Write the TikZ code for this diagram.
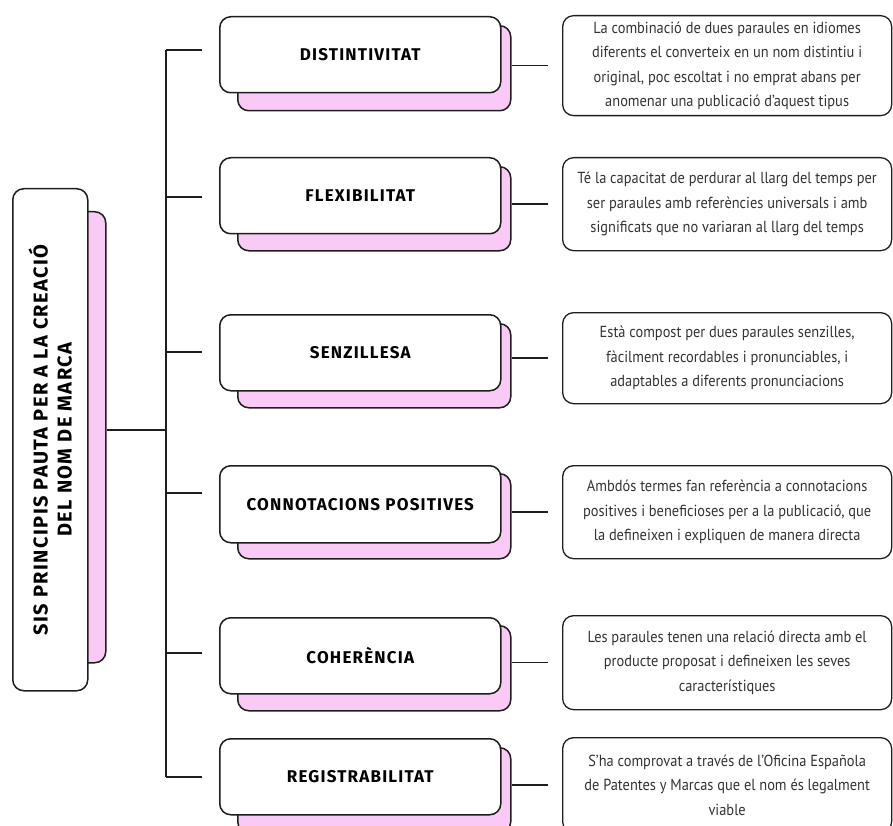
\documentclass[tikz,border=0pt]{standalone}
\usepackage{fontspec}
\setmainfont{PT Sans}
\newfontfamily\notefont[FakeStretch=0.9]{PT Sans}
\newfontfamily\headfont[LetterSpace=7]{Fira Sans}
\usetikzlibrary{positioning,calc}

\definecolor{ink}{HTML}{1E1E1E}
\definecolor{shadowpink}{HTML}{F9CAF5}
\definecolor{notetext}{HTML}{333333}

\begin{document}
\begin{tikzpicture}[
  x=1pt,y=-1pt,
  headbox/.style={rectangle,draw=ink,line width=1.5pt,rounded corners=11pt,fill=white,anchor=north west,inner sep=0pt,minimum width=281pt,minimum height=76pt,font=\headfont\bfseries\fontsize{17}{20}\selectfont},
  shadowbox/.style={rectangle,draw=ink,line width=1.5pt,rounded corners=11pt,fill=shadowpink,anchor=north west,inner sep=0pt,minimum width=273pt,minimum height=85pt},
  notebox/.style={rectangle,draw=ink,line width=1.3pt,rounded corners=11pt,fill=white,anchor=north west,inner sep=0pt,minimum width=329pt,align=center,text=notetext,font=\notefont\fontsize{16}{24.5}\selectfont},
  branch/.style={draw=ink,line width=1.4pt},
]
\useasboundingbox (0,0) rectangle (893,826);
\clip (0,0) rectangle (893,826);

% === TITLE (left, rotated) ===
\node[shadowbox,minimum width=75pt,minimum height=451pt] (titlesh) at (30,211) {};
\node[headbox,minimum width=75pt,minimum height=502pt] (title) at (12,188) {};
\node[rotate=90,align=center,font=\headfont\bfseries\fontsize{20}{24}\selectfont] (titletext) at (title.center) {SIS PRINCIPIS PAUTA PER A LA CREACIÓ\\DEL NOM DE MARCA};

% trunk coordinates
\coordinate (t0) at (166,430);
\coordinate (t1) at (166,50);
\coordinate (t2) at (166,197);
\coordinate (t3) at (166,352);
\coordinate (t4) at (166,493);
\coordinate (t5) at (166,653);
\coordinate (t6) at (166,777);

% === DISTINTIVITAT ===
\node[shadowbox] (distsh) at (237,25) {};
\node[headbox] (dist) at (219,16) {DISTINTIVITAT};
\node[notebox,minimum height=100pt] (distnote) at (562,15) {La combinació de dues paraules en idiomes\\diferents el converteix en un nom distintiu i\\original, poc escoltat i no emprat abans per\\anomenar una publicació d’aquest tipus};

% === FLEXIBILITAT ===
\node[shadowbox,minimum height=84pt] (flexsh) at (237,166) {};
\node[headbox] (flex) at (219,157) {FLEXIBILITAT};
\node[notebox,minimum height=93pt] (flexnote) at (562,157) {Té la capacitat de perdurar al llarg del temps per\\ser paraules amb referències universals i amb\\significats que no variaran al llarg del temps};

% === SENZILLESA ===
\node[shadowbox,minimum height=84pt] (senzsh) at (237,323) {};
\node[headbox] (senz) at (219,314) {SENZILLESA};
\node[notebox,minimum height=91pt] (senznote) at (562,312) {Està compost per dues paraules senzilles,\\fàcilment recordables i pronunciables, i\\adaptables a diferents pronunciacions};

% === CONNOTACIONS POSITIVES ===
\node[shadowbox] (connsh) at (237,473) {};
\node[headbox,minimum height=77pt] (conn) at (219,465) {CONNOTACIONS POSITIVES};
\node[notebox,minimum height=93pt] (connnote) at (562,465) {Ambdós termes fan referència a connotacions\\positives i beneficioses per a la publicació, que\\la defineixen i expliquen de manera directa};

% === COHERÈNCIA ===
\node[shadowbox] (cohsh) at (237,625) {};
\node[headbox] (coh) at (219,617) {COHERÈNCIA};
\node[notebox,minimum height=94pt] (cohnote) at (562,615) {Les paraules tenen una relació directa amb el\\producte proposat i defineixen les seves\\característiques};

% === REGISTRABILITAT ===
\node[shadowbox] (regsh) at (237,747) {};
\node[headbox] (reg) at (219,738) {REGISTRABILITAT};
\node[notebox,minimum height=95pt] (regnote) at (562,737) {S’ha comprovat a través de l’Oficina Española\\de Patentes y Marcas que el nom és legalment\\viable};

% Trunk and branches
\draw[branch] (titlesh.east |- t0) -- (t0);
\draw[branch] (t1) -- (t6);
\draw[branch,shorten >=17pt] (t1) -- (t1 -| dist.west);
\draw[branch,shorten >=17pt] (t2) -- (t2 -| flex.west);
\draw[branch,shorten >=17pt] (t3) -- (t3 -| senz.west);
\draw[branch,shorten >=17pt] (t4) -- (t4 -| conn.west);
\draw[branch,shorten >=17pt] (t5) -- (t5 -| coh.west);
\draw[branch,shorten >=17pt] (t6) -- (t6 -| reg.west);

% Links to the descriptions
\draw[branch,shorten >=14pt] (distsh.east |- distnote.west) -- (distnote.west);
\draw[branch,shorten >=14pt] (flexsh.east |- flexnote.west) -- (flexnote.west);
\draw[branch,shorten >=14pt] (senzsh.east |- senznote.west) -- (senznote.west);
\draw[branch,shorten >=14pt] (connsh.east |- connnote.west) -- (connnote.west);
\draw[branch,shorten >=14pt] (cohsh.east |- cohnote.west) -- (cohnote.west);
\draw[branch,shorten >=14pt] (regsh.east |- regnote.west) -- (regnote.west);

\end{tikzpicture}
\end{document}
